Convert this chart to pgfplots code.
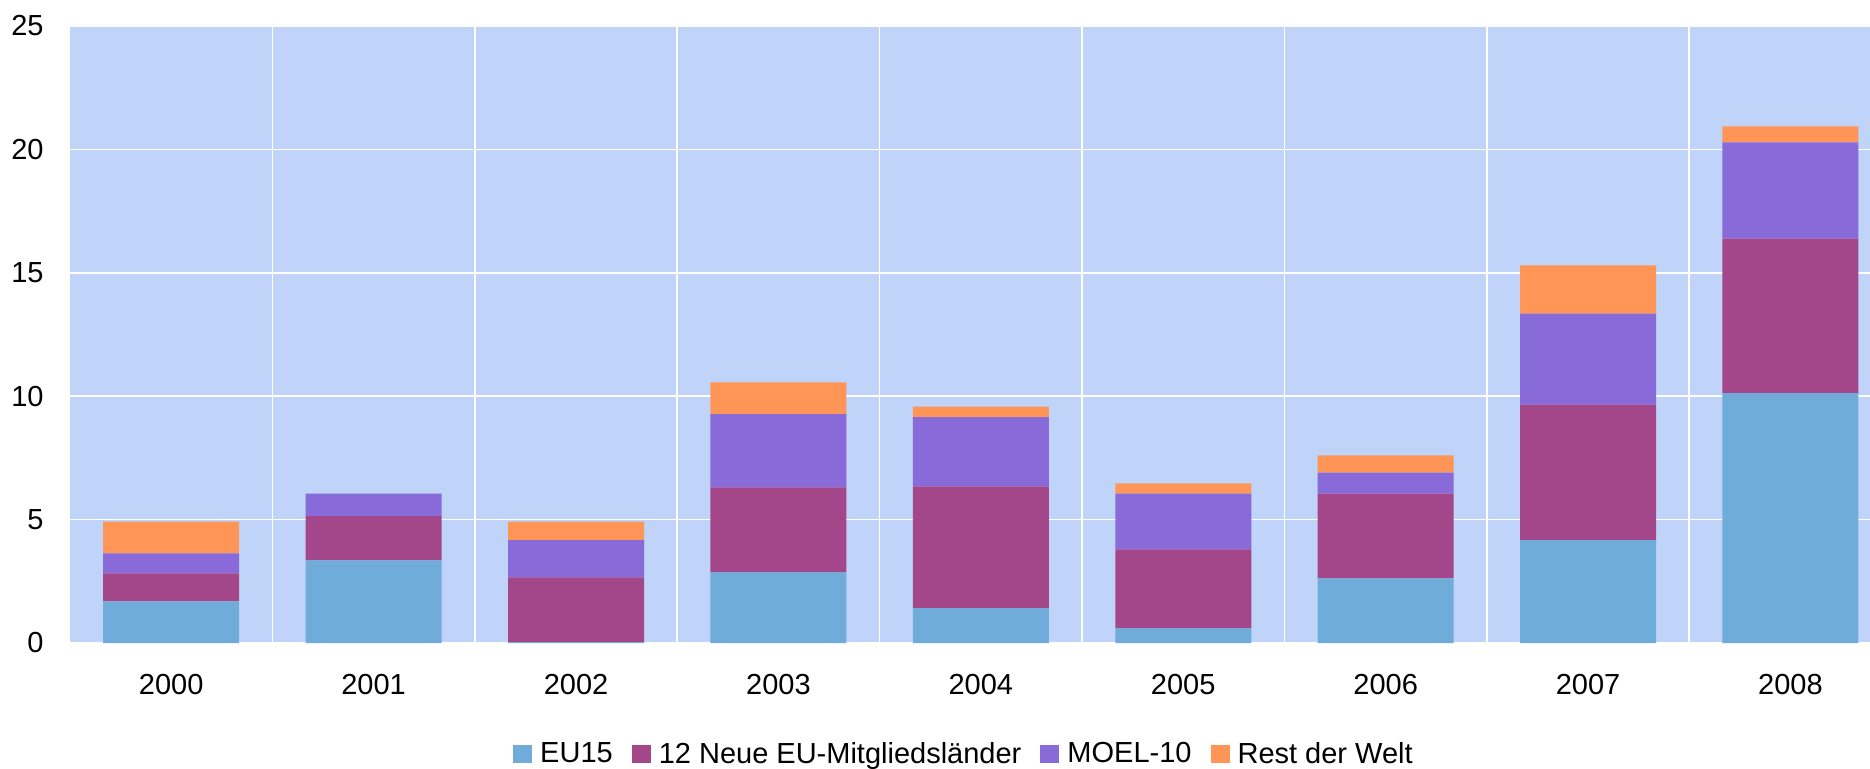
\documentclass[border=0pt]{standalone}
\usepackage{pgfplots}
\pgfplotsset{compat=1.18}
\usepackage{fontspec}
\setmainfont{Liberation Sans}
\definecolor{bgc}{RGB}{192,211,248}
\definecolor{ceu}{RGB}{112,172,217}
\definecolor{cneu}{RGB}{163,70,138}
\definecolor{cmoel}{RGB}{136,107,216}
\definecolor{crest}{RGB}{255,150,87}
\begin{document}
\begin{tikzpicture}
\path[use as bounding box] (0,0) rectangle (935pt,384pt);
\begin{axis}[
  at={(35pt,62.5pt)}, anchor=south west,
  scale only axis, width=900pt, height=308.5pt,
  ybar stacked, bar width=68pt,
  xmin=-0.5, xmax=8.393, ymin=0, ymax=25,
  xtick={0,...,8},
  xticklabels={2000,2001,2002,2003,2004,2005,2006,2007,2008},
  minor xtick={0.5,1.5,...,7.5},
  ytick={0,5,...,25},
  xminorgrids=true, ymajorgrids=true, xmajorgrids=false,
  grid style={white, line width=0.8pt},
  minor grid style={white, line width=0.8pt},
  major tick length=0pt, minor tick length=0pt,
  axis line style={draw=none},
  axis background/.style={fill=bgc},
  /pgf/number format/assume math mode=true,
  tick label style={font=\fontsize{14.5}{17}\selectfont, inner sep=0pt},
  xticklabel style={anchor=north, yshift=-15.6pt},
  yticklabel style={anchor=east, xshift=-13pt},
  legend columns=4,
  legend style={at={(0.4961,-0.1799)}, anchor=center, draw=none, fill=none,
    font=\fontsize{14.5}{17}\selectfont, inner sep=0pt,
    nodes={inner sep=0pt},
    /tikz/every odd column/.append style={column sep=4pt},
    /tikz/every even column/.append style={column sep=9.5pt}},
  legend cell align=left,
  legend image code/.code={\fill[#1] (0pt,-4.5pt) rectangle (9.5pt,4.5pt);},
]
\addplot[fill=ceu, draw=none] coordinates {(0,1.69) (1,3.35) (2,0.04) (3,2.86) (4,1.41) (5,0.60) (6,2.62) (7,4.17) (8,10.12)};
\addplot[fill=cneu, draw=none] coordinates {(0,1.13) (1,1.79) (2,2.62) (3,3.45) (4,4.94) (5,3.19) (6,3.43) (7,5.49) (8,6.27)};
\addplot[fill=cmoel, draw=none] coordinates {(0,0.81) (1,0.91) (2,1.51) (3,2.96) (4,2.80) (5,2.26) (6,0.85) (7,3.69) (8,3.89)};
\addplot[fill=crest, draw=none] coordinates {(0,1.29) (1,0) (2,0.75) (3,1.29) (4,0.43) (5,0.42) (6,0.70) (7,1.95) (8,0.65)};
\legend{EU15, 12 Neue EU-Mitgliedsländer, MOEL-10, Rest der Welt}
\end{axis}
\end{tikzpicture}
\end{document}
